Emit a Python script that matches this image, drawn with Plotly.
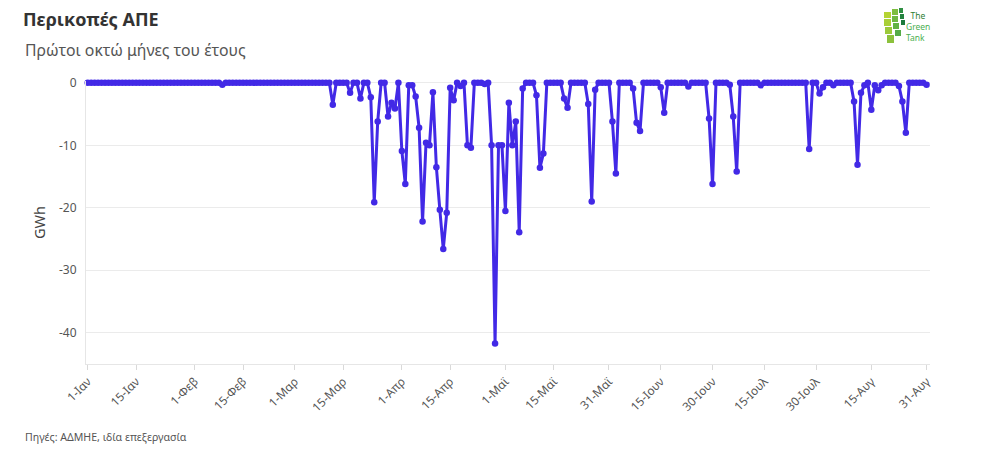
import plotly.graph_objects as go
import pandas as pd

# Daily dates, 1 Jan - 31 Aug 2024
dates = pd.date_range("2024-01-01", "2024-08-31", freq="D")

jan = [0] * 31
feb = [0, 0, 0, 0, 0, 0, 0, 0, -0.3, 0,
       0, 0, 0, 0, 0, 0, 0, 0, 0, 0,
       0, 0, 0, 0, 0, 0, 0, 0, 0]
mar = [0, 0, 0, 0, 0, 0, 0, 0, 0, 0,
       0, -3.5, 0, 0, 0, 0, -1.6, 0, 0, -2.5,
       0, 0, -2.3, -19.1, -6.2, 0, 0, -5.4, -3.2, -4.1,
       0]
apr = [-10.9, -16.2, -0.4, -0.4, -2.2, -7.2, -22.2, -9.6, -10.0, -1.5,
       -13.5, -20.3, -26.6, -20.8, -0.8, -2.8, 0, -0.5, 0, -10.0,
       -10.4, 0, 0, 0, -0.2, 0, -10.0, -41.7, -10.0, -10.0]
may = [-20.5, -3.2, -10.0, -6.2, -23.9, -0.9, 0, 0, 0, -2.0,
       -13.6, -11.3, 0, 0, 0, 0, 0, -2.5, -4.0, 0,
       0, 0, 0, 0, -3.4, -19.0, -1.1, 0, 0, 0,
       0]
jun = [-6.2, -14.5, 0, 0, 0, 0, -0.9, -6.4, -7.7, 0,
       0, 0, 0, 0, -0.7, -4.8, 0, 0, 0, 0,
       0, 0, -0.6, 0, 0, 0, 0, 0, -5.7, -16.2]
jul = [0, 0, 0, 0, -0.3, -5.4, -14.2, 0, 0, 0,
       0, 0, 0, -0.4, 0, 0, 0, 0, 0, 0,
       0, 0, 0, 0, 0, 0, 0, -10.6, 0, 0,
       -1.7]
aug = [-0.7, 0, 0, -0.4, 0, 0, 0, 0, 0, -3.0,
       -13.1, -1.6, -0.4, 0, -4.3, -0.4, -1.2, -0.4, 0, 0,
       0, 0, -0.5, -3.0, -8.0, 0, 0, 0, 0, 0,
       -0.3]
curtailment = jan + feb + mar + apr + may + jun + jul + aug

tick_dates = ["2024-01-01", "2024-01-15", "2024-02-01", "2024-02-15", "2024-03-01",
              "2024-03-15", "2024-04-01", "2024-04-15", "2024-05-01", "2024-05-15",
              "2024-05-31", "2024-06-15", "2024-06-30", "2024-07-15", "2024-07-30",
              "2024-08-15", "2024-08-31"]
tick_labels = ["1-Ιαν", "15-Ιαν", "1-Φεβ", "15-Φεβ", "1-Μαρ", "15-Μαρ", "1-Απρ",
               "15-Απρ", "1-Μαϊ", "15-Μαϊ", "31-Μαϊ", "15-Ιουν", "30-Ιουν",
               "15-Ιουλ", "30-Ιουλ", "15-Αυγ", "31-Αυγ"]
y_ticks = [0, -10, -20, -30, -40]

FONT = "Noto Sans"
LINE = "#4229E6"

fig = go.Figure()
fig.add_trace(go.Scatter(
    x=dates, y=curtailment, mode="lines+markers",
    line=dict(color=LINE, width=3),
    marker=dict(color=LINE, size=6.5),
    cliponaxis=False,
    showlegend=False,
))

# page has an 8px body margin; figure fills the rest of the window
OFF = 8
W, H = 1007 - 2 * OFF, 457 - 2 * OFF
# plot area in screen pixels: left 86, right 930, top 81, bottom 364
L = 86 - OFF
R = W - (930 - OFF)
T = 81 - OFF
B = H - (364 - OFF)
pw, ph = W - L - R, H - T - B


def px(xs):
    return (xs - OFF - L) / pw


def py(ys):
    return (H - B - (ys - OFF)) / ph


fig.update_layout(
    width=W, height=H,
    margin=dict(l=L, r=R, t=T, b=B),
    paper_bgcolor="white", plot_bgcolor="white",
    font=dict(family=FONT, color="#555555"),
    title=dict(text="<b>Περικοπές ΑΠΕ</b>", x=(23 - OFF) / W, xref="container",
               y=1 - (20 - OFF) / H, yref="container", xanchor="left", yanchor="middle",
               pad=dict(l=0, r=0, t=0, b=0),
               font=dict(size=18, color="#333333", family=FONT)),
    xaxis=dict(
        range=["2023-12-31 12:00", "2024-09-01 00:00"],
        tickvals=tick_dates, ticktext=tick_labels, tickangle=-45,
        tickfont=dict(size=11.8, color="#555555"),
        ticks="outside", ticklen=5, tickcolor="#d9d9d9",
        showgrid=False, showline=True, linecolor="#e6e6e6", linewidth=1,
        zeroline=False,
    ),
    yaxis=dict(
        range=[-45, 0.3], tickvals=y_ticks, ticktext=[str(v) for v in y_ticks],
        tickfont=dict(size=12, color="#555555"),
        showgrid=True, gridcolor="#ebebeb", gridwidth=1,
        showline=True, linecolor="#e6e6e6", linewidth=1,
        zeroline=False, ticks="", ticklabelstandoff=6,
        title=dict(text="GWh", font=dict(size=14.5, color="#444444"), standoff=9),
    ),
)

fig.add_annotation(text="Πρώτοι οκτώ μήνες του έτους", xref="paper", yref="paper",
                   x=px(23), y=py(50), xanchor="left", yanchor="middle",
                   showarrow=False, font=dict(size=15.8, color="#555555", family=FONT))
fig.add_annotation(text="Πηγές: ΑΔΜΗΕ, ιδία επεξεργασία", xref="paper", yref="paper",
                   x=px(23), y=py(437), xanchor="left", yanchor="middle",
                   showarrow=False, font=dict(size=10.6, color="#555555", family=FONT))

# Logo (approximate): green blocks arc + text
blocks = [
    (884, 12, 891, 18, "#b5d334"), (884, 19, 891, 26, "#a9cf36"),
    (885, 27, 892, 34, "#9cc93a"), (887, 35, 894, 43, "#8cc13c"),
    (892, 9, 898, 15, "#7dbd3f"), (892, 16, 898, 22, "#6fb842"),
    (893, 23, 899, 29, "#62b245"), (895, 30, 901, 36, "#55ab47"),
    (899, 8, 903, 13, "#2f8f43"), (900, 14, 904, 19, "#23833f"),
    (901, 20, 905, 25, "#1b7a3b"),
]
for x0, y0, x1, y1, c in blocks:
    fig.add_shape(type="rect", xref="paper", yref="paper",
                  x0=px(x0), x1=px(x1), y0=py(y1), y1=py(y0),
                  line=dict(width=0), fillcolor=c, layer="above")
fig.add_annotation(
    text="<span style='color:#2e7d32'>&nbsp;&nbsp;The</span><br>Green<br>Tank",
    xref="paper", yref="paper", x=px(905), y=py(27), xanchor="left", yanchor="middle",
    align="left", showarrow=False, borderpad=0,
    font=dict(size=8.5, color="#4caf50", family=FONT))

fig.write_html("out.html")
